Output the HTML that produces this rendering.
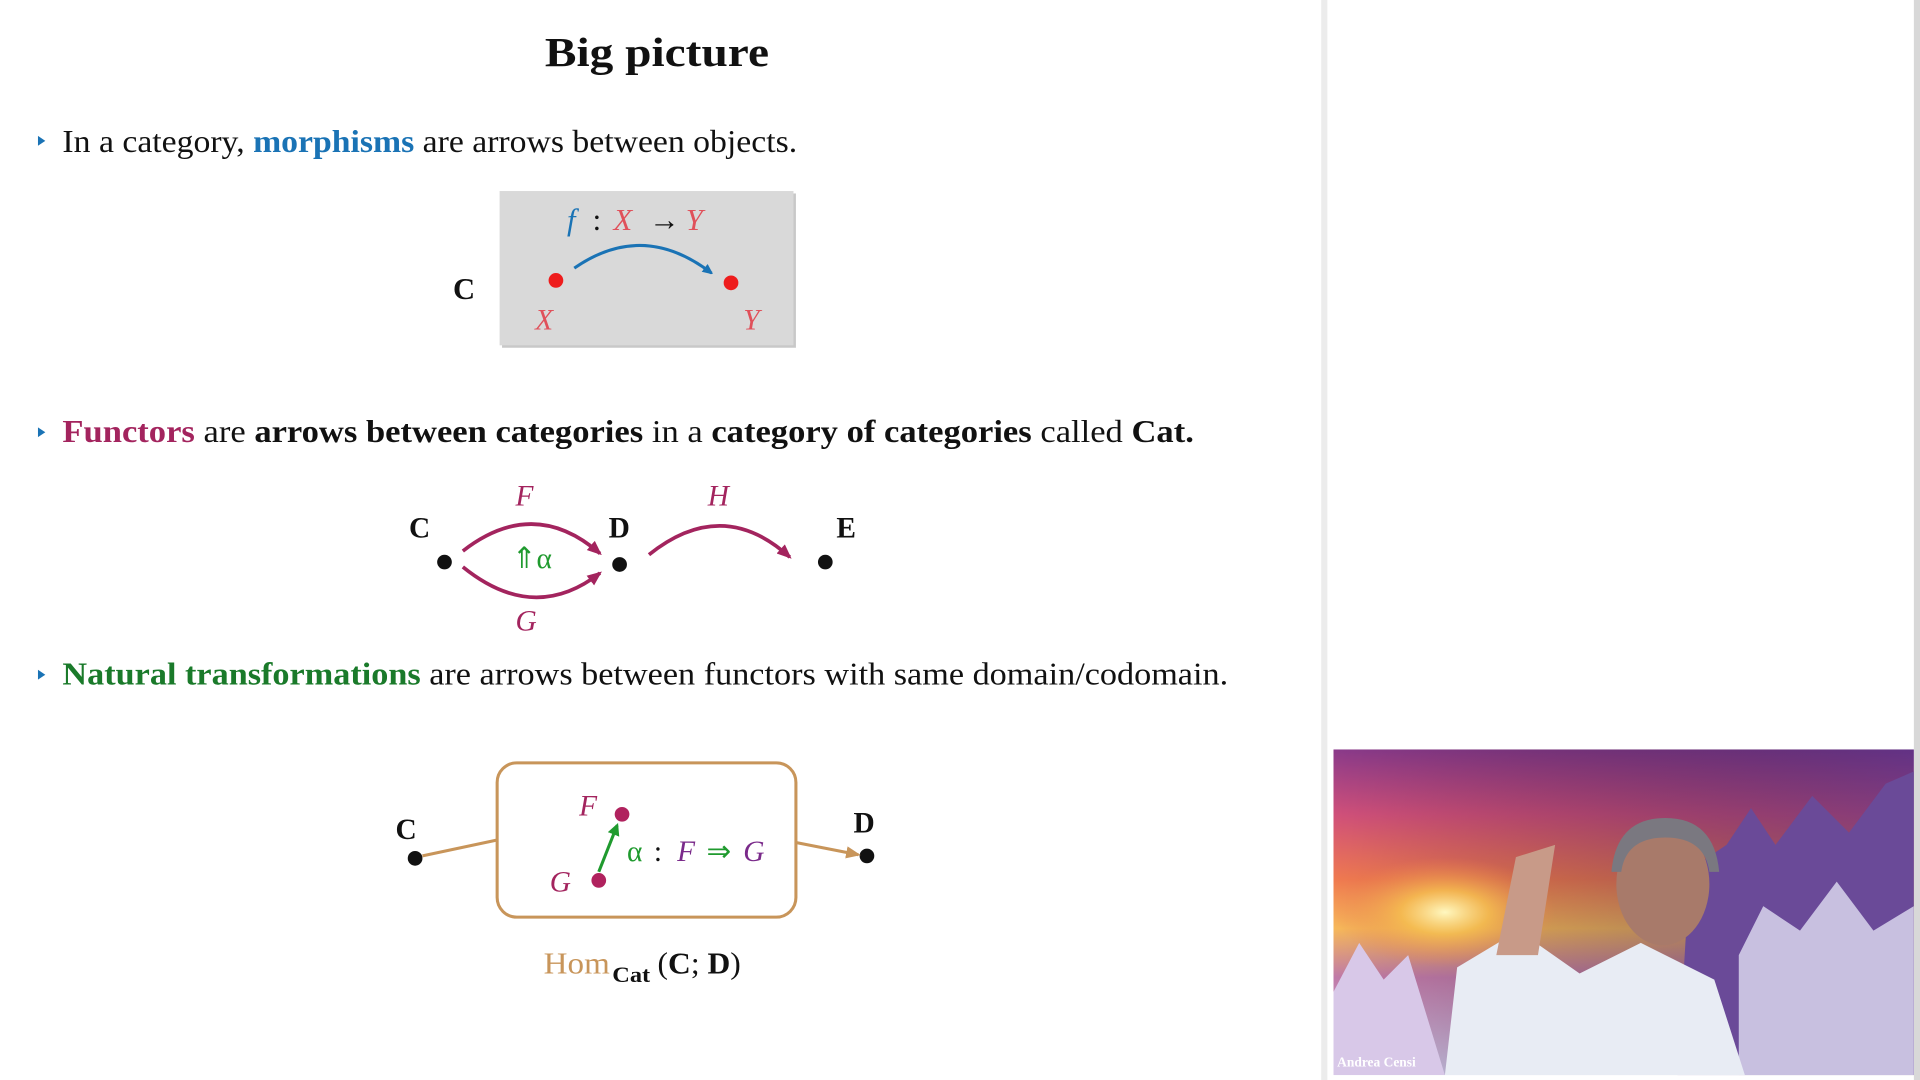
<!DOCTYPE html>
<html><head><meta charset="utf-8"><style>
html,body{margin:0;padding:0;background:#fff;width:1920px;height:1080px;overflow:hidden}
svg{display:block}
text{font-family:"Liberation Serif",serif}
</style></head><body>
<svg width="1920" height="1080" viewBox="0 0 1568 882">
<defs>
<clipPath id="vc"><rect x="1089" y="612" width="474" height="266"/></clipPath>
<marker id="ab" markerWidth="8" markerHeight="8" refX="7" refY="4" orient="auto" markerUnits="userSpaceOnUse"><path d="M0,0 L9,4 L0,8 z" fill="#1a73b5"/></marker>
<marker id="am" markerWidth="12" markerHeight="10" refX="10" refY="5" orient="auto" markerUnits="userSpaceOnUse"><path d="M0,0 L12,5 L0,10 z" fill="#a3245e"/></marker>
<marker id="ag" markerWidth="10" markerHeight="10" refX="8" refY="5" orient="auto" markerUnits="userSpaceOnUse"><path d="M0,0 L10,5 L0,10 z" fill="#1f9a2e"/></marker>
<marker id="ao" markerWidth="12" markerHeight="10" refX="10" refY="5" orient="auto" markerUnits="userSpaceOnUse"><path d="M0,0 L12,5 L0,10 z" fill="#c8955a"/></marker>
<linearGradient id="sky" x1="0" y1="0" x2="0" y2="1">
<stop offset="0" stop-color="#8a3a8a"/><stop offset="0.2" stop-color="#d0507a"/><stop offset="0.4" stop-color="#f07a50"/><stop offset="0.55" stop-color="#f7b85a"/><stop offset="0.7" stop-color="#c07aa8"/><stop offset="1" stop-color="#c8c0e0"/></linearGradient>
<radialGradient id="sun" cx="0.5" cy="0.5" r="0.5"><stop offset="0" stop-color="#fff8c0"/><stop offset="0.4" stop-color="#f8c050" stop-opacity="0.8"/><stop offset="1" stop-color="#f08050" stop-opacity="0"/></radialGradient>
<linearGradient id="sky2" x1="0" y1="0" x2="1" y2="0"><stop offset="0" stop-color="#000" stop-opacity="0"/><stop offset="1" stop-color="#3a2a80" stop-opacity="0.5"/></linearGradient>
</defs>
<rect x="0" y="0" width="1568" height="882" fill="#fff"/>
<rect x="1079" y="0" width="5" height="882" fill="#ececec"/>
<rect x="1563" y="0" width="5" height="882" fill="#d8d8d8"/>

<text x="445" y="54" textLength="183" lengthAdjust="spacingAndGlyphs" font-size="34" font-weight="bold" fill="#111">Big picture</text>

<g>
<path d="M31,111 L37,115 L31,119 z" fill="#1a73b5"/>
<text x="51" y="124" textLength="600" lengthAdjust="spacingAndGlyphs" font-size="26" fill="#111">In a category, <tspan fill="#1a73b5" font-weight="bold">morphisms</tspan> are arrows between objects.</text>
</g>

<g>
<rect x="410" y="158" width="240" height="126" fill="#c8c8c8"/>
<rect x="408" y="156" width="240" height="126" fill="#d9d9d9"/>
<text x="370" y="244" font-size="25" font-weight="bold" fill="#111">C</text>
<text x="463" y="188" font-size="25" font-style="italic" fill="#1a73b5">f</text>
<text x="484" y="188" font-size="25" fill="#111">:</text>
<text x="501" y="188" font-size="25" font-style="italic" fill="#e0505a">X</text>
<text x="530" y="188" font-size="25" fill="#111">→</text>
<text x="560" y="188" font-size="25" font-style="italic" fill="#e0505a">Y</text>
<path d="M469,219 Q525,180 581,223" fill="none" stroke="#1a73b5" stroke-width="2.5" marker-end="url(#ab)"/>
<circle cx="454" cy="229" r="6" fill="#ee1c1c"/>
<circle cx="597" cy="231" r="6" fill="#ee1c1c"/>
<text x="437" y="269" font-size="24" font-style="italic" fill="#e0505a">X</text>
<text x="607" y="269" font-size="24" font-style="italic" fill="#e0505a">Y</text>
</g>

<g>
<path d="M31,349 L37,353 L31,357 z" fill="#1a73b5"/>
<text x="51" y="361" textLength="924" lengthAdjust="spacingAndGlyphs" font-size="26" fill="#111"><tspan fill="#a3245e" font-weight="bold">Functors</tspan> are <tspan font-weight="bold">arrows between categories</tspan> in a <tspan font-weight="bold">category of categories</tspan> called <tspan font-weight="bold">Cat.</tspan></text>
</g>

<g>
<text x="334" y="439" font-size="24" font-weight="bold" fill="#111">C</text>
<text x="497" y="439" font-size="24" font-weight="bold" fill="#111">D</text>
<text x="683" y="439" font-size="24" font-weight="bold" fill="#111">E</text>
<text x="421" y="413" font-size="24" font-style="italic" fill="#a3245e">F</text>
<text x="578" y="413" font-size="24" font-style="italic" fill="#a3245e">H</text>
<text x="421" y="515" font-size="24" font-style="italic" fill="#a3245e">G</text>
<circle cx="363" cy="459" r="6" fill="#111"/>
<circle cx="506" cy="461" r="6" fill="#111"/>
<circle cx="674" cy="459" r="6" fill="#111"/>
<path d="M378,450 Q436,405 490,452" fill="none" stroke="#a3245e" stroke-width="3" marker-end="url(#am)"/>
<path d="M378,463 Q436,510 490,468" fill="none" stroke="#a3245e" stroke-width="3" marker-end="url(#am)"/>
<path d="M530,453 Q590,405 645,455" fill="none" stroke="#a3245e" stroke-width="3" marker-end="url(#am)"/>
<text x="418" y="464" font-size="24" fill="#1f9a2e">⇑α</text>
</g>

<g>
<path d="M31,547 L37,551 L31,555 z" fill="#1a73b5"/>
<text x="51" y="559" textLength="952" lengthAdjust="spacingAndGlyphs" font-size="26" fill="#111"><tspan fill="#1a7a2a" font-weight="bold">Natural transformations</tspan> are arrows between functors with same domain/codomain.</text>
</g>

<g>
<rect x="406" y="623" width="244" height="126" rx="16" fill="none" stroke="#c8955a" stroke-width="2.5"/>
<text x="323" y="685" font-size="24" font-weight="bold" fill="#111">C</text>
<text x="697" y="680" font-size="24" font-weight="bold" fill="#111">D</text>
<circle cx="339" cy="701" r="6" fill="#111"/>
<circle cx="708" cy="699" r="6" fill="#111"/>
<path d="M345,699 L406,686" stroke="#c8955a" stroke-width="2.5"/>
<path d="M650,688 L701,698" stroke="#c8955a" stroke-width="2.5" marker-end="url(#ao)"/>
<text x="473" y="666" font-size="24" font-style="italic" fill="#a3245e">F</text>
<text x="449" y="728" font-size="24" font-style="italic" fill="#a3245e">G</text>
<circle cx="508" cy="665" r="6" fill="#b0225e"/>
<circle cx="489" cy="719" r="6" fill="#b0225e"/>
<path d="M489,712 L504,674" stroke="#1f9a2e" stroke-width="2.5" marker-end="url(#ag)"/>
<text x="512" y="703" font-size="24" fill="#1f9a2e">α</text>
<text x="534" y="703" font-size="24" fill="#111">:</text>
<text x="553" y="703" font-size="24" font-style="italic" fill="#7a2a8a">F</text>
<text x="577" y="703" font-size="24" fill="#1f9a2e">⇒</text>
<text x="607" y="703" font-size="24" font-style="italic" fill="#7a2a8a">G</text>
<text x="444" y="795" textLength="54" lengthAdjust="spacingAndGlyphs" font-size="25" fill="#c8955a">Hom</text>
<text x="500" y="802" textLength="31" lengthAdjust="spacingAndGlyphs" font-size="18" font-weight="bold" fill="#111">Cat</text>
<text x="537" y="795" textLength="68" lengthAdjust="spacingAndGlyphs" font-size="25" fill="#111">(<tspan font-weight="bold">C</tspan>; <tspan font-weight="bold">D</tspan>)</text>
</g>

<g clip-path="url(#vc)">
<rect x="1089" y="612" width="474" height="266" fill="url(#sky)"/>
<rect x="1089" y="612" width="474" height="266" fill="url(#sky2)"/>
<ellipse cx="1180" cy="745" rx="90" ry="45" fill="url(#sun)"/>
<path d="M1089,810 L1110,770 L1130,800 L1150,780 L1180,878 L1089,878 z" fill="#d8c8e8"/>
<path d="M1370,878 L1380,710 L1410,690 L1430,660 L1450,690 L1480,650 L1510,680 L1540,640 L1563,630 L1563,878 z" fill="#6a4a98"/>
<path d="M1420,780 L1440,740 L1470,760 L1500,720 L1530,760 L1563,740 L1563,878 L1420,878 z" fill="#c8c0e0"/>
<path d="M1180,878 L1190,790 L1240,760 L1290,795 L1340,770 L1400,800 L1425,878 z" fill="#e8ecf4"/>
<ellipse cx="1358" cy="722" rx="38" ry="50" fill="#a87a6a"/>
<path d="M1316,712 Q1320,668 1360,668 Q1400,668 1404,712 L1396,712 Q1392,684 1360,684 Q1328,684 1324,712 z" fill="#7a7880"/>
<path d="M1222,780 L1238,700 L1270,690 L1256,780 z" fill="#c89a88"/>
<text x="1092" y="871" font-family="Liberation Sans,sans-serif" font-size="11" font-weight="bold" fill="#fff">Andrea Censi</text>
</g>
</svg>
</body></html>
